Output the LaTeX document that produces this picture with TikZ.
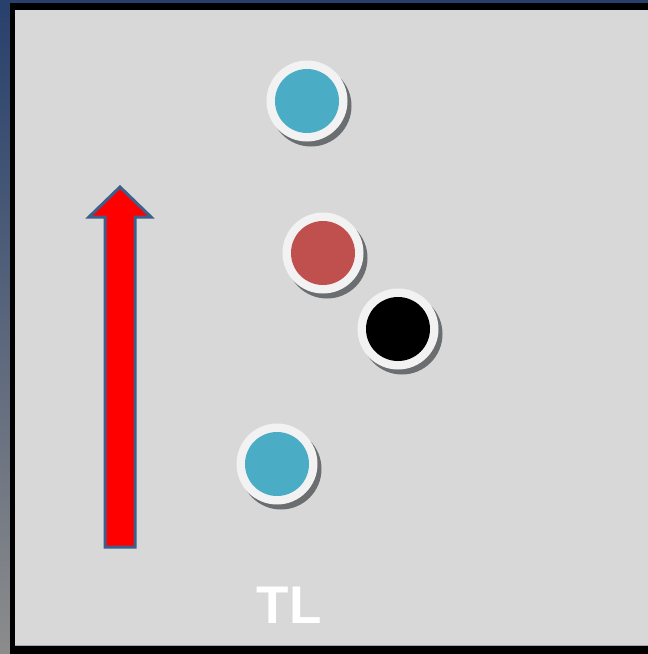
\documentclass[tikz,border=0pt]{standalone}
\usepackage{fontspec}
\setmainfont{Liberation Sans}
\definecolor{bgfill}{HTML}{D8D8D8}
\definecolor{stripTop}{HTML}{27406C}
\definecolor{stripBot}{HTML}{8C8C8C}
\definecolor{ringcol}{HTML}{F2F2F2}
\definecolor{shadowcol}{HTML}{6A6E70}
\definecolor{bluedot}{HTML}{4BACC6}
\definecolor{reddot}{HTML}{C0504D}
\definecolor{arrowedge}{HTML}{3C5F8C}
\tikzset{
  shadowdisc/.style={circle, fill=shadowcol, minimum size=81pt, inner sep=0pt},
  ringdisc/.style={circle, fill=ringcol, minimum size=81pt, inner sep=0pt},
  coredisc/.style={circle, minimum size=64pt, inner sep=0pt},
}
\begin{document}
\begin{tikzpicture}[x=1pt,y=-1pt]
\useasboundingbox (0,0) rectangle (648,654);
% background strips
\fill[stripTop] (0,0) rectangle (648,4);
\shade[top color=stripTop, bottom color=stripBot] (0,0) rectangle (10,654);
% black frame
\fill[black] (10,3) rectangle (648,654);
\fill[bgfill] (15,10) rectangle (648,645);
\draw[color=black!35, line width=0.8pt] (15,645) -- (648,645);
% arrow
\draw[arrowedge, line width=3pt, fill=red, line join=miter]
  (120,187) -- (151,217) -- (135,217) -- (135,547) -- (105,547) -- (105,217) -- (89,217) -- cycle;
% dots
\foreach \nm/\cx/\cy/\col in {b1/307/101/bluedot, r1/323/253/reddot, k1/398/329/black, b2/277/464/bluedot}{
  \node[shadowdisc] (\nm s) at (\cx+4,\cy+5) {};
  \node[ringdisc] (\nm r) at (\cx,\cy) {};
  \node[coredisc, fill=\col] (\nm) at (\cx,\cy) {};
}
% label
\node[text=white, font=\bfseries\fontsize{53}{53}\selectfont, inner sep=0pt] (tl) at (289,605) {TL};
\end{tikzpicture}
\end{document}
